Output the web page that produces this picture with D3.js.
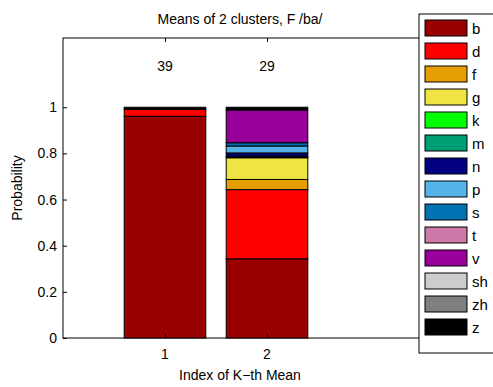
<!DOCTYPE html>
<html>
<head>
<meta charset="utf-8">
<script src="https://cdn.jsdelivr.net/npm/d3@7"></script>
<style>
  body { margin: 0; background: #fff; }
  text { font-family: "Liberation Sans", Arial, sans-serif; }
</style>
</head>
<body>
<svg id="chart" width="493" height="387"></svg>
<script>
// clusters (K-th mean index) and number of items per cluster
var clusters = [1, 2],
    counts = [39, 29];

// phone categories, stacked bottom -> top
var phones = ["b", "d", "f", "g", "k", "m", "n", "p", "s", "t", "v", "sh", "zh", "z"];
var colors = ["#990000", "#ff0000", "#e69f00", "#f0e442", "#00ff00", "#009e73", "#000080",
              "#56b4e9", "#0072b2", "#cc79a7", "#990099", "#cccccc", "#7f7f7f", "#000000"];

// probability of each phone within each cluster
var cluster1 = [0.961, 0.030, 0, 0, 0, 0, 0, 0, 0, 0, 0, 0, 0, 0.009];
var cluster2 = [0.343, 0.300, 0.044, 0.094, 0.003, 0.004, 0.014, 0.030, 0.014, 0, 0.142, 0, 0, 0.012];

var yTicks = [0, 0.2, 0.4, 0.6, 0.8, 1];

var svg = d3.select("#chart"),
    mLeft = 63, mRight = 471, mTop = 38, mBottom = 338;

var x = d3.scaleLinear().domain([0, 4]).range([mLeft, mRight]),
    y = d3.scaleLinear().domain([0, 1.3]).range([mBottom, mTop]);

var table = clusters.map(function(c, i) {
  var row = { cluster: c, count: counts[i] };
  var vals = i === 0 ? cluster1 : cluster2;
  phones.forEach(function(p, j) { row[p] = vals[j]; });
  return row;
});

var series = d3.stack().keys(phones)(table);
var barW = (x(1) - x(0)) * 0.8;

// axes box
svg.append("rect")
  .attr("x", mLeft).attr("y", mTop)
  .attr("width", mRight - mLeft).attr("height", mBottom - mTop)
  .attr("fill", "#fff").attr("stroke", "#000").attr("stroke-width", 1);

// bars
svg.append("g").selectAll("g")
  .data(series)
  .enter().append("g")
    .attr("fill", function(d, i) { return colors[i]; })
  .selectAll("rect")
  .data(function(d) { return d; })
  .enter().append("rect")
    .attr("x", function(d) { return x(d.data.cluster) - barW / 2; })
    .attr("y", function(d) { return y(d[1]); })
    .attr("width", barW)
    .attr("height", function(d) { return y(d[0]) - y(d[1]); })
    .attr("stroke", "#000")
    .attr("stroke-width", function(d) { return d[1] - d[0] > 0 ? 1 : 0; });

// counts above bars
svg.append("g").selectAll("text")
  .data(table)
  .enter().append("text")
    .attr("x", function(d) { return x(d.cluster); })
    .attr("y", y(1.2) + 10)
    .attr("text-anchor", "middle")
    .attr("font-size", 14)
    .text(function(d) { return d.count; });

// y axis, ticks inside (left and right)
svg.append("g").attr("transform", "translate(" + mLeft + ",0)")
  .call(d3.axisRight(y).tickValues(yTicks).tickSize(4).tickFormat(""))
  .select(".domain").remove();
svg.append("g").attr("transform", "translate(" + mRight + ",0)")
  .call(d3.axisLeft(y).tickValues(yTicks).tickSize(4).tickFormat(""))
  .select(".domain").remove();
svg.append("g").selectAll("text")
  .data(yTicks)
  .enter().append("text")
    .attr("x", mLeft - 6)
    .attr("y", function(d) { return y(d) + 5; })
    .attr("text-anchor", "end")
    .attr("font-size", 14)
    .text(function(d) { return d3.format("~g")(d); });

// x axis, ticks inside (bottom and top)
svg.append("g").attr("transform", "translate(0," + mBottom + ")")
  .call(d3.axisTop(x).tickValues(clusters).tickSize(4).tickFormat(""))
  .select(".domain").remove();
svg.append("g").attr("transform", "translate(0," + mTop + ")")
  .call(d3.axisBottom(x).tickValues(clusters).tickSize(4).tickFormat(""))
  .select(".domain").remove();
svg.append("g").selectAll("text")
  .data(clusters)
  .enter().append("text")
    .attr("x", function(d) { return x(d); })
    .attr("y", mBottom + 21)
    .attr("text-anchor", "middle")
    .attr("font-size", 14)
    .text(function(d) { return d; });

svg.selectAll(".tick line").attr("stroke", "#000");

// labels
svg.append("text")
  .attr("x", 240).attr("y", 24)
  .attr("text-anchor", "middle").attr("font-size", 14)
  .text("Means of 2 clusters, F /ba/");
svg.append("text")
  .attr("x", 240).attr("y", 380)
  .attr("text-anchor", "middle").attr("font-size", 14)
  .text("Index of K\u2212th Mean");
svg.append("text")
  .attr("transform", "translate(22," + ((mTop + mBottom) / 2) + ") rotate(-90)")
  .attr("text-anchor", "middle").attr("font-size", 14)
  .text("Probability");

// legend
var legend = svg.append("g").attr("transform", "translate(419,14)");
legend.append("rect")
  .attr("width", 90).attr("height", 339)
  .attr("fill", "#fff").attr("stroke", "#000");
var item = legend.selectAll("g.item")
  .data(phones)
  .enter().append("g")
    .attr("class", "item")
    .attr("transform", function(d, i) { return "translate(0," + (14 + i * 23) + ")"; });
item.append("rect")
  .attr("x", 6).attr("y", -8)
  .attr("width", 42).attr("height", 16)
  .attr("fill", function(d, i) { return colors[i]; })
  .attr("stroke", "#000").attr("stroke-width", 1);
item.append("text")
  .attr("x", 53).attr("y", 6)
  .attr("font-size", 15)
  .text(function(d) { return d; });
</script>
</body>
</html>
